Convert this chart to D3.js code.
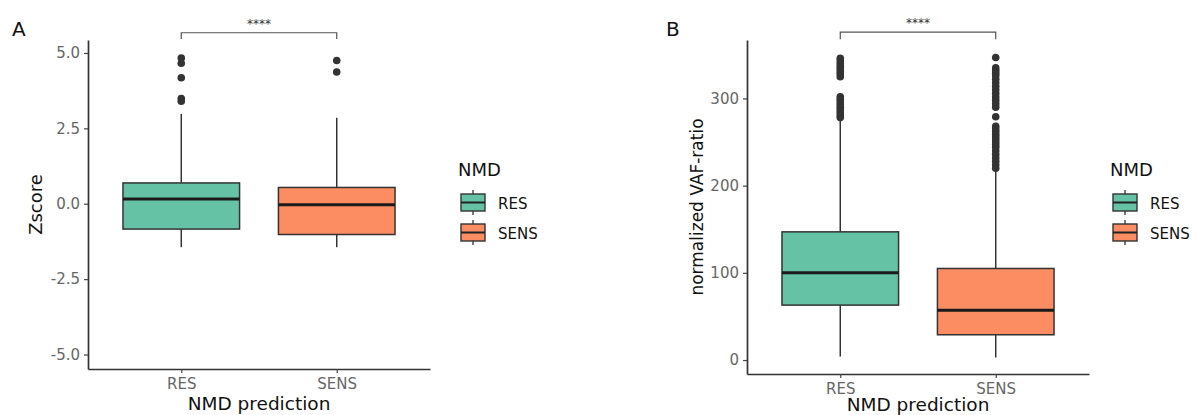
<!DOCTYPE html>
<html>
<head>
<meta charset="utf-8">
<script src="https://cdn.jsdelivr.net/npm/d3@7"></script>
<style>
  body { margin: 0; background: #fff; }
  svg { font-family: "DejaVu Sans", sans-serif; }
</style>
</head>
<body>
<script>
// categories + colours
var categories = ["RES", "SENS"];
var fills = ["#66c2a5", "#fc8d62"];

// panel A: Zscore box stats (RES, SENS)
var zLower  = [-1.44, -1.44];
var zQ1     = [-0.84, -1.02];
var zMedian = [0.16, -0.03];
var zQ3     = [0.69, 0.54];
var zUpper  = [2.98, 2.85];
var zOutRES  = [4.83, 4.66, 4.18, 3.49, 3.40];
var zOutSENS = [4.75, 4.37];
var zTicks = [-5.0, -2.5, 0.0, 2.5, 5.0];

// panel B: normalized VAF-ratio box stats
var vLower  = [4, 3];
var vQ1     = [63, 29];
var vMedian = [100, 57];
var vQ3     = [147, 105];
var vUpper  = [275, 218];
var vOutRES  = [346, 343, 340, 337, 334, 331, 328, 325, 302, 299, 296, 293, 290, 287, 284, 281, 278];
var vOutSENS = [347, 335, 332, 329, 326, 322, 318, 314, 310, 306, 302, 298, 294, 290, 279,
                268, 265, 262, 259, 256, 253, 250, 247, 244, 240, 236, 232, 228, 224, 220];
var vTicks = [0, 100, 200, 300];

var svg = d3.select("body").append("svg")
    .attr("width", 1204)
    .attr("height", 415);

function drawPanel(p) {
    var g = svg.append("g");

    var x = d3.scaleLinear().domain([0.4, 2.6]).range([p.left, p.right]);
    var y = d3.scaleLinear().domain(p.ydomain).range([p.bottom, 40]);

    // y axis
    var ya = g.append("g")
        .attr("transform", "translate(" + p.left + ",0)")
        .call(d3.axisLeft(y).tickValues(p.ticks).tickFormat(p.fmt).tickSize(4).tickSizeOuter(0).tickPadding(4));
    ya.select(".domain").attr("stroke", "#333").attr("stroke-width", 1.7);
    ya.selectAll(".tick line").attr("stroke", "#444").attr("stroke-width", 1.2);
    ya.selectAll(".tick text").attr("fill", "#666").style("font-size", "15px").style("font-family", "DejaVu Sans");

    // x axis
    var xa = g.append("g")
        .attr("transform", "translate(0," + p.bottom + ")")
        .call(d3.axisBottom(x).tickValues([1, 2]).tickFormat(function(d) { return categories[d - 1]; })
            .tickSize(4).tickSizeOuter(0).tickPadding(5));
    xa.select(".domain").attr("stroke", "#333").attr("stroke-width", 1.7);
    xa.selectAll(".tick line").attr("stroke", "#444").attr("stroke-width", 1.2);
    xa.selectAll(".tick text").attr("fill", "#666").style("font-size", "15px").style("font-family", "DejaVu Sans");

    var half = 0.375;
    categories.forEach(function(c, i) {
        var cx = x(i + 1);
        // whiskers
        g.append("line").attr("x1", cx).attr("x2", cx)
            .attr("y1", y(p.q3[i])).attr("y2", y(p.upper[i]))
            .attr("stroke", "#333").attr("stroke-width", 1.5);
        g.append("line").attr("x1", cx).attr("x2", cx)
            .attr("y1", y(p.q1[i])).attr("y2", y(p.lower[i]))
            .attr("stroke", "#333").attr("stroke-width", 1.5);
        // box
        g.append("rect")
            .attr("x", x(i + 1 - half)).attr("width", x(i + 1 + half) - x(i + 1 - half))
            .attr("y", y(p.q3[i])).attr("height", y(p.q1[i]) - y(p.q3[i]))
            .attr("fill", fills[i]).attr("stroke", "#333").attr("stroke-width", 1.5);
        // median
        g.append("line")
            .attr("x1", x(i + 1 - half)).attr("x2", x(i + 1 + half))
            .attr("y1", y(p.median[i])).attr("y2", y(p.median[i]))
            .attr("stroke", "#1a1a1a").attr("stroke-width", 3);
        // outliers
        g.selectAll(null).data(p.outliers[i]).enter().append("circle")
            .attr("cx", cx).attr("cy", function(d) { return y(d); })
            .attr("r", 3.8).attr("fill", "#333");
    });

    // significance bracket
    var by = y(p.bracket), bt = y(p.bracketTip);
    g.append("path")
        .attr("d", "M" + x(1) + "," + bt + "V" + by + "H" + x(2) + "V" + bt)
        .attr("fill", "none").attr("stroke", "#555").attr("stroke-width", 1.2);
    g.append("text").attr("x", (x(1) + x(2)) / 2).attr("y", by - 5)
        .attr("text-anchor", "middle").style("font-size", "12px").attr("fill", "#333")
        .text("****");

    // titles
    g.append("text").attr("x", p.letterX).attr("y", 36)
        .style("font-size", "20px").attr("fill", "#111").text(p.letter);
    g.append("text")
        .attr("transform", "translate(" + p.ylabX + "," + ((p.bottom + 40) / 2) + ") rotate(-90)")
        .attr("text-anchor", "middle").style("font-size", p.ylabSize).attr("fill", "#111")
        .text(p.ylab);
    g.append("text").attr("x", (p.left + p.right) / 2).attr("y", p.xlabY)
        .attr("text-anchor", "middle").style("font-size", "18.5px").attr("fill", "#111")
        .text("NMD prediction");

    // legend
    var lg = g.append("g").attr("transform", "translate(" + p.legX + ",0)");
    lg.append("text").attr("x", -3).attr("y", 176).style("font-size", "18px").attr("fill", "#111").text("NMD");
    categories.forEach(function(c, i) {
        var ky = 194 + i * 30;
        lg.append("line").attr("x1", 12).attr("x2", 12).attr("y1", ky - 4).attr("y2", ky + 21)
            .attr("stroke", "#333").attr("stroke-width", 1.3);
        lg.append("rect").attr("x", 0).attr("y", ky).attr("width", 24).attr("height", 17)
            .attr("fill", fills[i]).attr("stroke", "#333").attr("stroke-width", 1.4);
        lg.append("line").attr("x1", 0).attr("x2", 24).attr("y1", ky + 8.5).attr("y2", ky + 8.5)
            .attr("stroke", "#222").attr("stroke-width", 2);
        lg.append("text").attr("x", 37).attr("y", ky + 14.5).style("font-size", "15px")
            .attr("fill", "#111").text(c);
    });
}

// hyphen minus like the reference
var zFmt = function(d) { return d3.format(".1f")(d).replace("\u2212", "-"); };

drawPanel({
    left: 88, right: 430, bottom: 369,
    ydomain: [-5.48, 5.43], ticks: zTicks, fmt: zFmt,
    lower: zLower, q1: zQ1, median: zMedian, q3: zQ3, upper: zUpper,
    outliers: [zOutRES, zOutSENS],
    bracket: 5.67, bracketTip: 5.46,
    letter: "A", letterX: 12, ylab: "Zscore", ylabX: 42, ylabSize: "18px",
    legX: 461, xlabY: 410
});

drawPanel({
    left: 747, right: 1089, bottom: 374,
    ydomain: [-16, 367], ticks: vTicks, fmt: d3.format("d"),
    lower: vLower, q1: vQ1, median: vMedian, q3: vQ3, upper: vUpper,
    outliers: [vOutRES, vOutSENS],
    bracket: 376, bracketTip: 368,
    letter: "B", letterX: 666, ylab: "normalized VAF-ratio", ylabX: 703, ylabSize: "17px",
    legX: 1113, xlabY: 411
});
</script>
</body>
</html>
